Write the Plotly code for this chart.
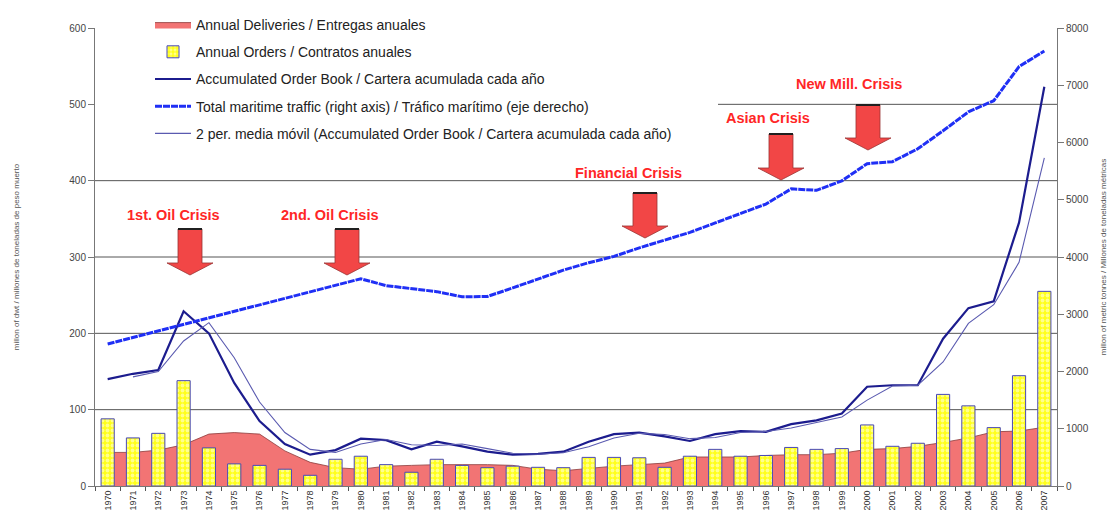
import plotly.graph_objects as go

years = ["1970", "1971", "1972", "1973", "1974", "1975", "1976", "1977", "1978", "1979",
         "1980", "1981", "1982", "1983", "1984", "1985", "1986", "1987", "1988", "1989",
         "1990", "1991", "1992", "1993", "1994", "1995", "1996", "1997", "1998", "1999",
         "2000", "2001", "2002", "2003", "2004", "2005", "2006", "2007"]

deliveries = [44, 44, 47, 54, 68, 70, 68, 46, 31, 24, 22, 26, 27, 28, 28, 28, 27, 22, 20, 23,
              26, 28, 30, 38, 38, 38, 40, 41, 41, 43, 48, 49, 52, 57, 63, 71, 72, 77]

orders = [88, 63, 69, 138, 50, 29, 27, 22, 14, 35, 39, 28, 18, 35, 27, 24, 26, 24.5, 24, 37.5,
          37.5, 37, 24.5, 39, 48, 39, 40, 50.5, 48, 49, 80, 52, 56, 120, 105, 76.5, 144.5, 255]

order_book = [140, 147, 152, 229, 200, 135, 85, 55, 41, 47, 62, 60, 48, 58, 52, 45, 41, 42, 45, 58,
              68, 70, 65, 59, 68, 72, 71, 81, 86, 95, 130, 132, 132, 193, 233, 242, 345, 523]

moving_avg = [None, 143, 150, 190, 214, 168, 110, 70, 48, 44, 55, 61, 54, 53, 55, 49, 43, 41.5, 43.5, 51.5,
              63, 69, 67.5, 62, 63.5, 70, 71.5, 76, 83.5, 90.5, 112.5, 131, 132, 162.5, 213, 237.5, 293, 430]

traffic = [2480, 2595, 2705, 2820, 2935, 3050, 3165, 3280, 3395, 3510, 3620, 3500, 3450, 3395, 3305, 3310,
           3460, 3615, 3770, 3900, 4010, 4160, 4300, 4430, 4595, 4760, 4925, 5190, 5165, 5330, 5630, 5665,
           5890, 6205, 6535, 6730, 7325, 7600]

left_ticks = [0, 100, 200, 300, 400, 500, 600]
right_ticks = [0, 1000, 2000, 3000, 4000, 5000, 6000, 7000, 8000]

crises = [
    ("1st. Oil Crisis", 173, 215, 190, 229, 263, 275),
    ("2nd. Oil Crisis", 330, 215, 347, 229, 263, 275),
    ("Financial Crisis", 628, 173, 645, 193, 226, 238),
    ("Asian Crisis", 768, 118, 781, 134, 168, 180),
    ("New Mill. Crisis", 849, 84, 868, 105, 138, 150),
]

# plot-area geometry (pixels)
L, T, W, H = 95, 28, 962, 458
FIG_W, FIG_H = 1111, 525


def px(x):
    return (x - L) / W


def py(y):
    return (T + H - y) / H


FONT = "Arial, Liberation Sans, sans-serif"

fig = go.Figure()

fig.add_trace(go.Scatter(
    x=years, y=deliveries, name="Annual Deliveries / Entregas anuales",
    mode="lines", fill="tozeroy", fillcolor="#f27474",
    line=dict(color="#8c3a3a", width=0.8), yaxis="y", legendgroup="a",
))

fig.add_trace(go.Bar(
    x=years, y=orders, name="Annual Orders / Contratos anuales", width=0.52,
    marker=dict(color="#ffff1a", line=dict(color="#4848b8", width=1),
                pattern=dict(shape=".", fgcolor="white", size=5, solidity=0.45)),
    yaxis="y2", legendgroup="b",
))

fig.add_trace(go.Scatter(
    x=years, y=order_book, name="Accumulated Order Book / Cartera acumulada cada año",
    mode="lines", line=dict(color="#1c1c8e", width=2.2), yaxis="y3", legendgroup="c",
))

fig.add_trace(go.Scatter(
    x=years, y=traffic, name="Total maritime traffic (right axis) / Tráfico marítimo (eje derecho)",
    mode="lines", line=dict(color="#1f2ff5", width=3, dash="7px,1px"), yaxis="y4", legendgroup="d",
))

fig.add_trace(go.Scatter(
    x=years, y=moving_avg, name="2 per. media móvil (Accumulated Order Book / Cartera acumulada cada año)",
    mode="lines", line=dict(color="#5a5ab0", width=1.1), yaxis="y3", legendgroup="e",
    connectgaps=False,
))

shapes = []
for v in [100, 200, 300, 400]:
    shapes.append(dict(type="line", xref="paper", yref="y", x0=0, x1=1, y0=v, y1=v,
                       line=dict(color="#555555", width=1), layer="below"))
shapes.append(dict(type="line", xref="paper", yref="y", x0=px(718), x1=1, y0=500, y1=500,
                   line=dict(color="#555555", width=1), layer="below"))

annotations = []
for label, tx, ty, cx, top, head, tip in crises:
    sh, hh = 12, 23
    pts = [(cx - sh, top), (cx + sh, top), (cx + sh, head), (cx + hh, head), (cx, tip),
           (cx - hh, head), (cx - sh, head)]
    path = "M " + " L ".join(f"{px(a):.5f},{py(b):.5f}" for a, b in pts) + " Z"
    shapes.append(dict(type="path", xref="paper", yref="paper", path=path,
                       fillcolor="#f24646", line=dict(color="#9a3434", width=0.8), layer="above"))
    shapes.append(dict(type="line", xref="paper", yref="paper", x0=px(cx - sh), x1=px(cx + sh),
                       y0=py(top), y1=py(top), line=dict(color="#202020", width=2), layer="above"))
    annotations.append(dict(text=label, xref="paper", yref="paper", x=px(tx), y=py(ty),
                            xanchor="center", yanchor="middle", showarrow=False,
                            font=dict(family=FONT, size=14.5, color="#ff2626", weight="bold")))

axis_common = dict(showgrid=False, zeroline=False, fixedrange=True)

fig.update_layout(
    width=FIG_W, height=FIG_H,
    margin=dict(l=L, r=FIG_W - L - W, t=T, b=FIG_H - T - H, autoexpand=False),
    paper_bgcolor="white", plot_bgcolor="white",
    font=dict(family=FONT, color="#333333"),
    showlegend=True,
    legend=dict(x=px(150), y=py(9), xanchor="left", yanchor="top",
                bgcolor="rgba(255,255,255,0)", font=dict(family=FONT, size=14, color="#222222"),
                tracegroupgap=6, traceorder="grouped", itemwidth=36),
    xaxis=dict(type="category", range=[-0.5, 37.5], tickangle=-90, tickfont=dict(size=9, color="#333"),
               ticks="outside", tickson="boundaries", ticklen=4, tickcolor="#555",
               showline=True, linecolor="#777777", **axis_common),
    yaxis=dict(range=[0, 600], tickvals=left_ticks, ticks="outside", ticklen=6, tickcolor="#777",
               showline=True, linecolor="#777777", tickfont=dict(size=10, color="#444"),
               title=dict(text="millon of dwt / millones de toneladas de peso muerto",
                          font=dict(size=8, color="#555"), standoff=48),
               **axis_common),
    yaxis2=dict(range=[0, 600], overlaying="y", visible=False, **axis_common),
    yaxis3=dict(range=[0, 600], overlaying="y", visible=False, **axis_common),
    yaxis4=dict(range=[0, 8000], overlaying="y", side="right", tickvals=right_ticks,
                ticks="outside", ticklen=6, tickcolor="#777", showline=True, linecolor="#777777",
                tickfont=dict(size=10, color="#444"),
                title=dict(text="millon of metric tonnes / Millones de toneladas métricas",
                           font=dict(size=8, color="#555"), standoff=12),
                **axis_common),
    bargap=0.48,
    shapes=shapes,
    annotations=annotations,
)

fig.write_html("out.html")
